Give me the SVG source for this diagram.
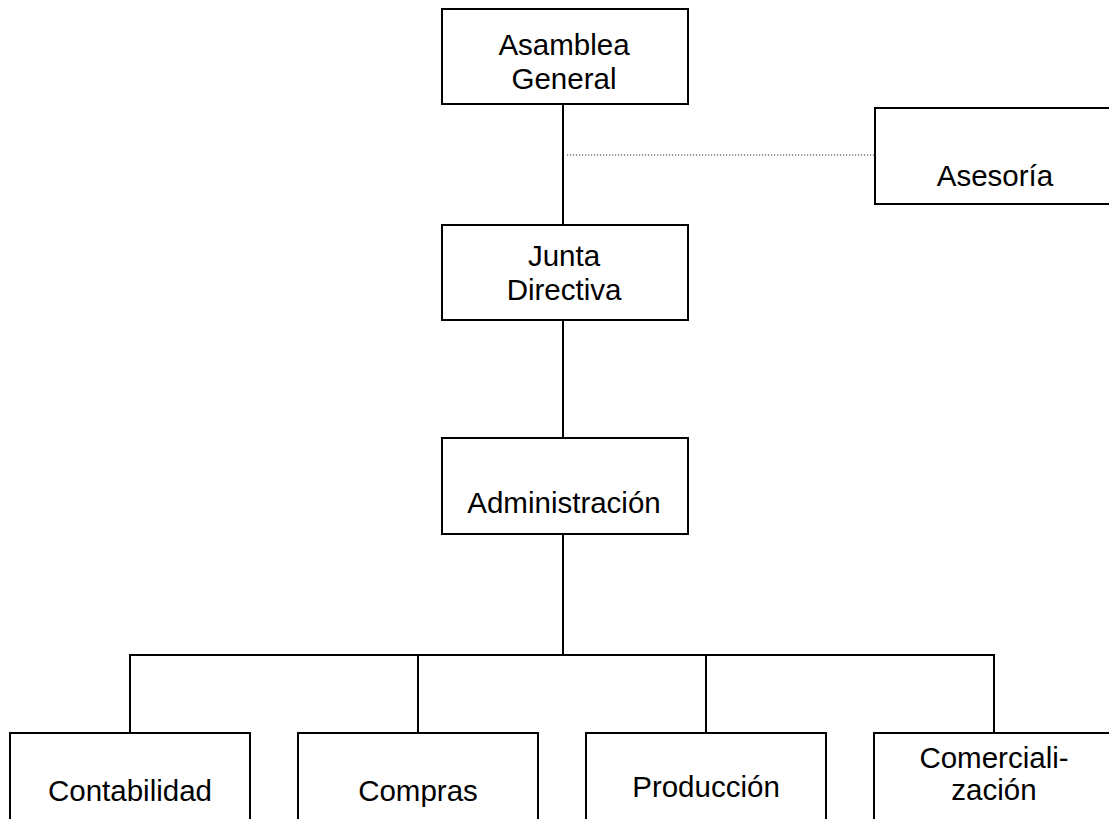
<svg xmlns="http://www.w3.org/2000/svg" width="1109" height="819" viewBox="0 0 1109 819">
<style>
.box{fill:#fff;stroke:#000;stroke-width:2}
.ln{fill:none;stroke:#000;stroke-width:2}
.dot{fill:none;stroke:#333;stroke-width:1.2;stroke-dasharray:1.2 1.8}
text{font-family:"Liberation Sans",Arial,sans-serif;font-size:29.5px;fill:#000;text-anchor:middle}
</style>
<rect width="1109" height="819" fill="#fff"/>
<g id="connectors">
<line class="ln" x1="563" y1="104" x2="563" y2="225"/>
<line class="dot" x1="567" y1="155" x2="874" y2="155"/>
<line class="ln" x1="563" y1="320" x2="563" y2="438"/>
<line class="ln" x1="563" y1="534" x2="563" y2="655"/>
<polyline class="ln" points="130,733 130,655 994,655 994,733"/>
<line class="ln" x1="418" y1="655" x2="418" y2="733"/>
<line class="ln" x1="706" y1="655" x2="706" y2="733"/>
</g>
<g id="asamblea">
<rect class="box" x="442" y="9" width="246" height="95"/>
<text x="564" y="55">Asamblea</text>
<text x="564" y="89">General</text>
</g>
<g id="asesoria">
<rect class="box" x="875" y="108" width="250" height="96"/>
<text x="995" y="186">Asesoría</text>
</g>
<g id="junta">
<rect class="box" x="442" y="225" width="246" height="95"/>
<text x="564" y="266">Junta</text>
<text x="564" y="300">Directiva</text>
</g>
<g id="administracion">
<rect class="box" x="442" y="438" width="246" height="96"/>
<text x="564" y="513">Administración</text>
</g>
<g id="contabilidad">
<rect class="box" x="10" y="733" width="240" height="100"/>
<text x="130" y="801">Contabilidad</text>
</g>
<g id="compras">
<rect class="box" x="298" y="733" width="240" height="100"/>
<text x="418" y="801">Compras</text>
</g>
<g id="produccion">
<rect class="box" x="586" y="733" width="240" height="100"/>
<text x="706" y="797">Producción</text>
</g>
<g id="comercializacion">
<rect class="box" x="874" y="733" width="240" height="100"/>
<text x="994" y="768">Comerciali-</text>
<text x="994" y="800">zación</text>
</g>
</svg>
